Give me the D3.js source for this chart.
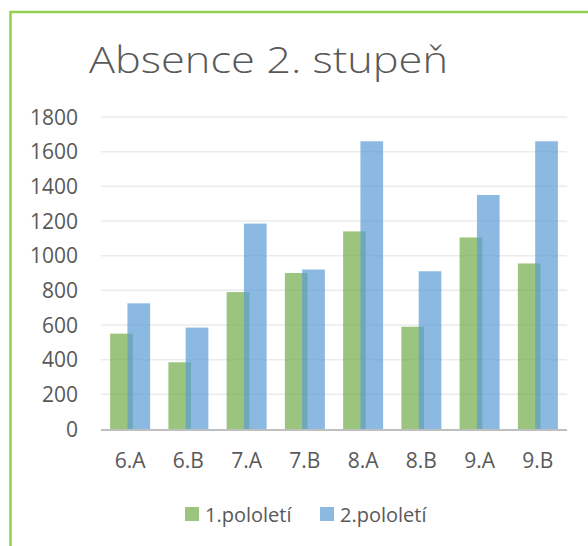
<!DOCTYPE html>
<html>
<head>
<meta charset="utf-8">
<script src="https://cdn.jsdelivr.net/npm/d3@7"></script>
<style>
  body { margin: 0; background: #fff; }
  svg { display: block; }
</style>
</head>
<body>
<svg></svg>
<script>
const width = 588;
const height = 546;

const categories = ["6.A", "6.B", "7.A", "7.B", "8.A", "8.B", "9.A", "9.B"];
const firstHalf = [550, 385, 790, 900, 1140, 590, 1105, 955];
const secondHalf = [725, 585, 1185, 920, 1660, 910, 1350, 1660];
const seriesNames = ["1.pololetí", "2.pololetí"];
const yTicks = [0, 200, 400, 600, 800, 1000, 1200, 1400, 1600, 1800];

const colors = ["#70ad47", "#5b9bd5"];
const textColor = "#595959";
const font = "'Open Sans', sans-serif";

const svg = d3.select("svg")
  .attr("width", width)
  .attr("height", height);

// green frame, only left and top edges are visible
svg.append("path")
  .attr("d", `M10.5,${height} L10.5,12 L${width},12`)
  .attr("fill", "none")
  .attr("stroke", "#92d050")
  .attr("stroke-width", 2.5);

svg.append("text")
  .attr("x", 89)
  .attr("y", 73)
  .attr("font-family", font)
  .attr("font-weight", 300)
  .attr("font-size", 37)
  .attr("textLength", 359)
  .attr("lengthAdjust", "spacingAndGlyphs")
  .attr("fill", textColor)
  .text("Absence 2. stupeň");

const x = d3.scaleBand()
  .domain(categories)
  .range([101, 567]);

const y = d3.scaleLinear()
  .domain([0, 1800])
  .range([429, 117]);

// gridlines
svg.append("g")
  .selectAll("line")
  .data(yTicks.slice(1))
  .enter().append("line")
  .attr("x1", 101)
  .attr("x2", 567)
  .attr("y1", (d) => y(d))
  .attr("y2", (d) => y(d))
  .attr("stroke", "#ebebeb")
  .attr("stroke-width", 1.5);

// y labels
svg.append("g")
  .selectAll("text")
  .data(yTicks)
  .enter().append("text")
  .attr("x", 78)
  .attr("y", (d) => y(d) + 7.5)
  .attr("text-anchor", "end")
  .attr("font-family", font)
  .attr("font-size", 21)
  .attr("fill", textColor)
  .text((d) => d);

const barWidth = 22.7;
const barStep = 17.3;
const series = [firstHalf, secondHalf];

series.forEach((values, s) => {
  svg.append("g")
    .selectAll("rect")
    .data(values)
    .enter().append("rect")
    .attr("x", (d, i) => x(categories[i]) + x.bandwidth() / 2 - (barWidth + barStep) / 2 + s * barStep)
    .attr("y", (d) => y(d))
    .attr("width", barWidth)
    .attr("height", (d) => y(0) - y(d))
    .attr("fill", colors[s])
    .attr("fill-opacity", 0.7);
});

// axis line
svg.append("line")
  .attr("x1", 101)
  .attr("x2", 567)
  .attr("y1", 430)
  .attr("y2", 430)
  .attr("stroke", "#bfbfbf")
  .attr("stroke-width", 2);

// category labels
svg.append("g")
  .selectAll("text")
  .data(categories)
  .enter().append("text")
  .attr("x", (d) => x(d) + x.bandwidth() / 2)
  .attr("y", 468)
  .attr("text-anchor", "middle")
  .attr("font-family", font)
  .attr("font-size", 21)
  .attr("fill", textColor)
  .text((d) => d);

// legend
const legendX = [185, 320];
const legend = svg.append("g")
  .selectAll("g")
  .data(seriesNames)
  .enter().append("g")
  .attr("transform", (d, i) => "translate(" + legendX[i] + ",507)");

legend.append("rect")
  .attr("width", 14)
  .attr("height", 14)
  .attr("fill", (d, i) => colors[i])
  .attr("fill-opacity", 0.7);

legend.append("text")
  .attr("x", 20)
  .attr("y", 15)
  .attr("font-family", font)
  .attr("font-size", 20)
  .attr("fill", textColor)
  .text((d) => d);
</script>
</body>
</html>
